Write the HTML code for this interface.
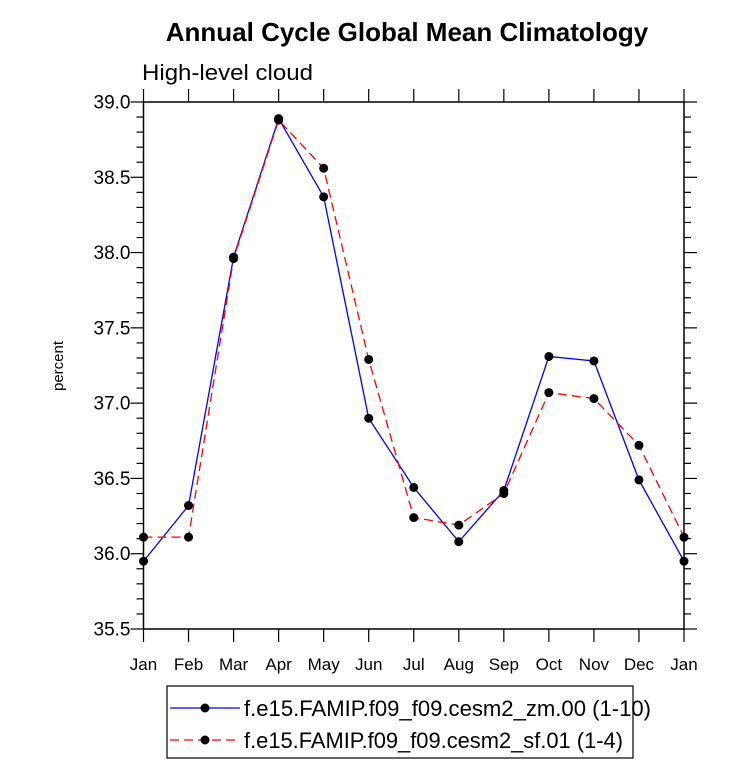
<!DOCTYPE html>
<html><head><meta charset="utf-8"><style>
body{margin:0;background:#fff;}
svg text{font-family:"Liberation Sans",Arial,sans-serif;}
</style></head><body>
<svg width="733" height="766">
<text x="407" y="41" text-anchor="middle" font-size="26" font-weight="bold">Annual Cycle Global Mean Climatology</text>
<text x="142" y="80" font-size="22.5" textLength="171" lengthAdjust="spacingAndGlyphs">High-level cloud</text>
<text transform="translate(63,366) rotate(-90)" text-anchor="middle" font-size="15">percent</text>
<g id="axes"></g>
<g id="series"></g>
<rect x="167" y="686" width="466" height="72" fill="none" stroke="#000" stroke-width="1.2"/>
<g>
<line x1="170" y1="708" x2="240" y2="708" stroke="#00f" stroke-width="1.3"/>
<circle cx="205" cy="708" r="4.5" fill="#000"/>
<text x="244" y="716" font-size="22" textLength="407" lengthAdjust="spacingAndGlyphs">f.e15.FAMIP.f09_f09.cesm2_zm.00 (1-10)</text>
</g>
<g>
<line x1="170" y1="740" x2="240" y2="740" stroke="#f00" stroke-width="1.3" stroke-dasharray="9,5"/>
<circle cx="205" cy="740" r="4.5" fill="#000"/>
<text x="244" y="748" font-size="22" textLength="379" lengthAdjust="spacingAndGlyphs">f.e15.FAMIP.f09_f09.cesm2_sf.01 (1-4)</text>
</g>
</svg>
<script>
const months=["Jan","Feb","Mar","Apr","May","Jun","Jul","Aug","Sep","Oct","Nov","Dec","Jan"];
const zmValues=[35.95,36.32,37.97,38.89,38.37,36.90,36.44,36.08,36.42,37.31,37.28,36.49,35.95];
const sfValues=[36.11,36.11,37.96,38.88,38.56,37.29,36.24,36.19,36.40,37.07,37.03,36.72,36.11];
const yTicks=["35.5","36.0","36.5","37.0","37.5","38.0","38.5","39.0"];
const L=143.5,R=684,T=102,B=629,ymin=35.5,ymax=39.0;
const xs=i=>L+(R-L)*i/(months.length-1);
const ys=v=>B-(v-ymin)/(ymax-ymin)*(B-T);
const NS="http://www.w3.org/2000/svg";
function mk(tag,attrs,parent){const e=document.createElementNS(NS,tag);for(const k in attrs)e.setAttribute(k,attrs[k]);parent.appendChild(e);return e;}
const ax=document.getElementById('axes');
const frame=mk('rect',{x:L,y:T,width:R-L,height:B-T,fill:'none',stroke:'#000','stroke-width':1.5},ax);


months.forEach((m,i)=>{
  const x=xs(i);
  mk('line',{x1:x,y1:B,x2:x,y2:B+13,stroke:'#000','stroke-width':1.2},ax);
  mk('line',{x1:x,y1:T,x2:x,y2:T-13,stroke:'#000','stroke-width':1.2},ax);
  const t=mk('text',{x:x,y:B+41,'text-anchor':'middle','font-size':17},ax);
  t.textContent=m;
  
  
});
for(let k=0;k<=35;k++){
  const v=ymin+k*0.1;const y=ys(v);const major=k%5===0;const len=major?13:7;
  mk('line',{x1:L,y1:y,x2:L-len,y2:y,stroke:'#000','stroke-width':1.2},ax);
  mk('line',{x1:R,y1:y,x2:R+len,y2:y,stroke:'#000','stroke-width':1.2},ax);
}
yTicks.forEach(s=>{
  const t=mk('text',{x:L-13,y:ys(parseFloat(s))+6.5,'text-anchor':'end','font-size':19},ax);
  t.textContent=s;
  
  
});
const sg=document.getElementById('series');
function draw(vals,color,dash,name){
  const g=mk('g',{},sg);
  
  
  const p=mk('polyline',{points:vals.map((v,i)=>xs(i)+','+ys(v)).join(' '),fill:'none',stroke:color,'stroke-width':1.3},g);
  if(dash)p.setAttribute('stroke-dasharray',dash);
  vals.forEach((v,i)=>{
    const c=mk('circle',{cx:xs(i),cy:ys(v),r:4.5,fill:'#000'},g);
    
    
  });
}
draw(zmValues,'#00f',null,'series-zm');
draw(sfValues,'#f00','9,5','series-sf');
</script>
</body></html>
